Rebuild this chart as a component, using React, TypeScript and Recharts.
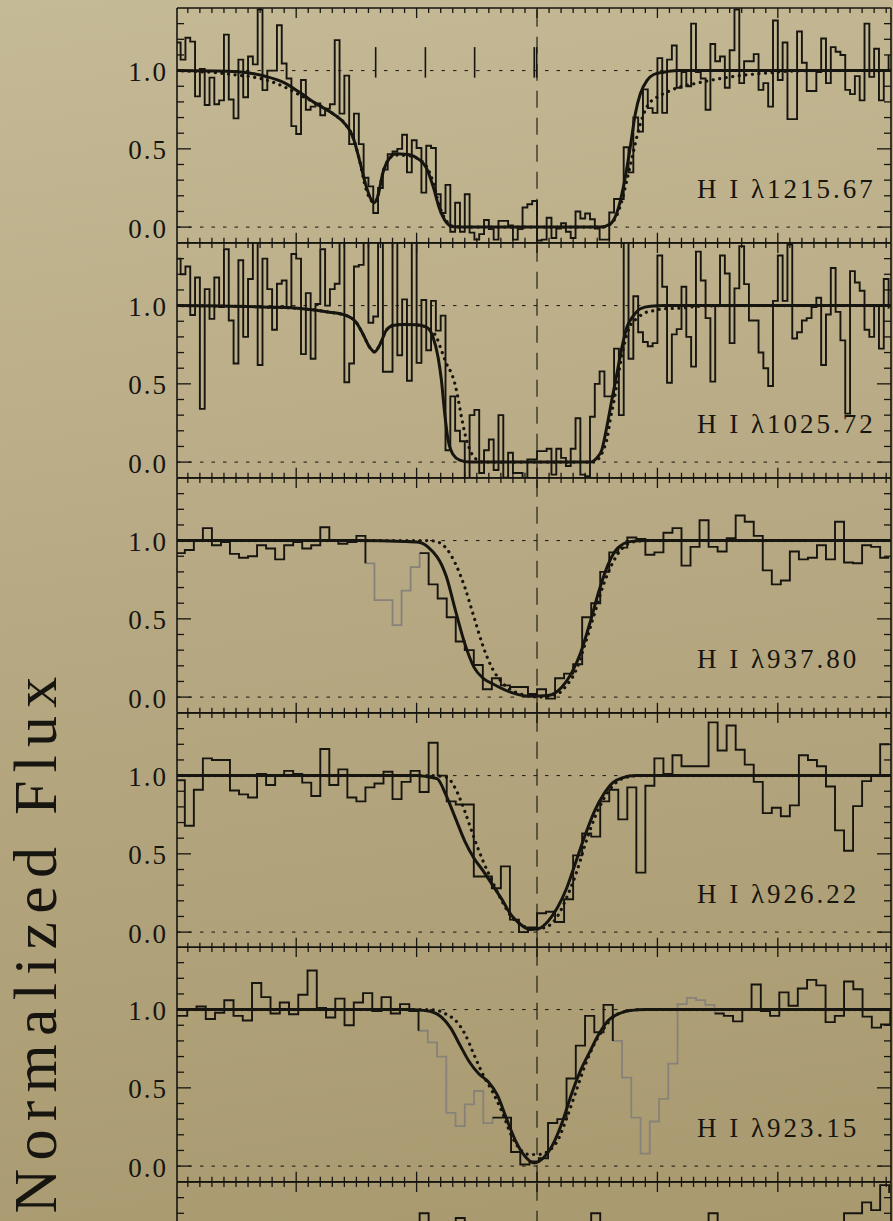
import React from "react";
import { LineChart, Line, XAxis, YAxis, ReferenceLine } from "recharts";

// page and frame geometry (px)
const PAGE_W = 893;
const PAGE_H = 1221;
const PLOT_LEFT = 177;
const PLOT_RIGHT = 891;
const PANEL_TOP = 8.4;
const PANEL_H = 234.75;
const Y_AXIS_W = 60;

const V_DOMAIN: [number, number] = [-299, 294];
const F_DOMAIN: [number, number] = [-0.1, 1.4];

const INK = "#17150f";
const GREY = "#86827a";
const SERIF = '"Liberation Serif", "Times New Roman", serif';

// velocity ticks every 10 km/s, long ones every 100
const V_TICKS: number[] = [];
for (let v = -290; v <= 290; v += 10) V_TICKS.push(v);
const F_TICKS = [0, 0.1, 0.2, 0.3, 0.4, 0.5, 0.6, 0.7, 0.8, 0.9, 1.0, 1.1, 1.2, 1.3];

const LINE_LABELS = ["H I λ1215.67", "H I λ1025.72", "H I λ937.80", "H I λ926.22", "H I λ923.15"];

type Pair = [number, number];

// ---- H I 1215.67 (Ly a): 4 km/s bins, first centre at -298
const P1_FLUX = [
  1.18, 1.07, 1.21, 1.185, 0.835, 1.01, 0.78, 0.955, 0.785, 0.81,
  1.23, 0.815, 0.695, 1.07, 0.83, 1.09, 1.04, 1.39, 0.875, 1.0,
  1.0, 1.29, 1.045, 0.95, 0.645, 0.595, 0.94, 0.75, 0.77, 0.79,
  0.715, 0.757, 0.785, 1.195, 0.725, 0.968, 0.53, 0.725, 0.53, 0.315,
  0.26, 0.09, 0.25, 0.367, 0.466, 0.483, 0.5, 0.59, 0.35, 0.555,
  0.505, 0.22, 0.52, 0.505, 0.21, 0.09, 0.27, -0.03, 0.156, -0.03,
  0.21, -0.035, -0.08, -0.045, 0.045, -0.013, -0.08, 0.04, 0.04, 0.01,
  -0.08, -0.013, 0.125, 0.146, 0.167, -0.086, -0.08, 0.06, -0.07, -0.01,
  0.025, -0.03, -0.07, 0.1, 0.055, 0.087, 0.05, -0.01, -0.08, -0.08,
  0.093, 0.18, 0.18, 0.51, 0.35, 0.7, 0.61, 0.88, 0.76, 0.73,
  1.08, 0.73, 1.07, 1.16, 0.89, 0.99, 0.9, 1.3, 0.99, 0.95,
  0.75, 1.17, 1.06, 1.09, 0.89, 1.13, 1.39, 0.92, 1.06, 1.06,
  1.105, 0.877, 0.92, 0.77, 1.32, 0.94, 1.18, 0.69, 0.69, 1.25,
  1.05, 0.87, 0.87, 0.99, 1.205, 0.92, 1.15, 1.12, 1.1, 0.877,
  0.85, 0.965, 0.81, 1.3, 0.96, 1.14, 0.81, 1.0, 1.1,
];
const P1_SOLID: Pair[] = [
  [-300, 1.0], [-253, 0.995], [-225, 0.962], [-211, 0.926], [-197.5, 0.863], [-183.6, 0.789],
  [-169.7, 0.726], [-158.6, 0.652], [-153, 0.578], [-147.5, 0.43], [-141.9, 0.262], [-137.8, 0.177],
  [-135, 0.156], [-132.2, 0.198], [-128, 0.346], [-122.5, 0.44], [-116.9, 0.468], [-110, 0.466],
  [-105.8, 0.462], [-97.5, 0.43], [-91.9, 0.378], [-86.4, 0.262], [-80.8, 0.114], [-75.3, 0.03],
  [-69.7, 0.002], [-58.6, 0.0], [52.5, 0.0], [60.8, 0.02], [66.4, 0.093], [71.9, 0.262],
  [77.5, 0.515], [81.7, 0.726], [85.8, 0.852], [91.4, 0.937], [96.9, 0.975], [105.3, 0.99],
  [116.4, 1.0], [295, 1.0],
];
const P1_DOTTED: Pair[] = [
  [-300, 1.0], [-253, 0.975], [-225, 0.94], [-211, 0.9], [-197.5, 0.846], [-183.6, 0.79],
  [-169.7, 0.726], [-158.6, 0.652], [-153, 0.578], [-147.5, 0.43], [-141.9, 0.24], [-137.8, 0.17],
  [-135, 0.156], [-132.2, 0.198], [-128, 0.346], [-122.5, 0.44], [-116.9, 0.46], [-105.8, 0.455],
  [-97.5, 0.43], [-91.9, 0.39], [-86.4, 0.29], [-80.8, 0.13], [-75.3, 0.04], [-69.7, 0.005],
  [-58.6, 0.0], [55, 0.0], [63.6, 0.04], [69.2, 0.135], [74.7, 0.3], [80.3, 0.49], [85.8, 0.66],
  [91.4, 0.77], [99.7, 0.83], [108, 0.863], [116.4, 0.89], [130.3, 0.916], [160.8, 0.96],
  [191.4, 0.985], [224.7, 1.0], [295, 1.0],
];
const P1_MARKS = [-134, -92.7, -51.8, -2.3, -0.3];
const MARK_SPAN: Pair = [0.955, 1.15];

// ---- H I 1025.72 (Ly b): 4 km/s bins, first centre at -298
const P2_FLUX = [
  1.3, 1.2, 1.25, 0.94, 1.18, 0.34, 1.105, 0.915, 1.18, 0.99,
  1.36, 0.905, 0.63, 1.29, 0.8, 1.17, 1.45, 0.62, 1.3, 1.105,
  0.846, 1.14, 1.16, 0.99, 1.33, 1.3, 0.69, 1.08, 0.66, 1.01,
  1.36, 1.0, 1.105, 1.14, 1.45, 0.51, 0.63, 1.25, 1.26, 1.45,
  0.89, 0.93, 1.45, 0.577, 0.577, 1.45, 0.683, 1.04, 0.52, 1.45,
  0.634, 1.036, 0.715, 1.03, 0.84, 0.936, 0.076, 0.42, 0.2, 0.133,
  -0.17, 0.3, 0.334, -0.07, 0.076, 0.144, -0.05, 0.3, -0.1, 0.06,
  -0.07, -0.07, -0.12, 0.017, 0.017, 0.07, 0.07, 0.085, -0.08, 0.085,
  0.027, -0.025, 0.085, 0.28, -0.08, -0.09, 0.29, 0.5, 0.58, 0.42,
  0.42, 0.725, 0.3, 1.45, 0.66, 1.06, 0.83, 0.767, 0.74, 0.76,
  1.32, 1.12, 0.507, 0.816, 0.85, 1.12, 0.8, 0.61, 1.345, 1.16,
  0.92, 0.514, 1.0, 1.32, 1.205, 0.76, 1.11, 1.38, 1.137, 0.905,
  0.905, 0.7, 0.6, 0.486, 1.03, 1.32, 1.03, 1.39, 0.79, 0.83,
  0.905, 0.92, 0.99, 1.05, 0.62, 0.943, 1.24, 0.96, 0.778, 0.31,
  1.22, 1.148, 1.095, 0.846, 0.8, 1.0, 0.725, 1.17, 0.98,
];
const P2_SOLID: Pair[] = [
  [-300, 1.0], [-222.5, 0.99], [-194.7, 0.98], [-172.5, 0.958], [-158.6, 0.937], [-150.3, 0.894],
  [-144.7, 0.82], [-139.2, 0.736], [-135, 0.704], [-130.8, 0.746], [-125.3, 0.841], [-119.7, 0.873],
  [-111.4, 0.88], [-100.3, 0.877], [-91.9, 0.863], [-86.4, 0.8], [-82.2, 0.672], [-79.4, 0.524],
  [-76.7, 0.313], [-73.9, 0.144], [-69.7, 0.049], [-64.2, 0.013], [-55.8, 0.0], [44.2, 0.0],
  [49.7, 0.027], [53.9, 0.08], [58.1, 0.23], [62.2, 0.4], [66.4, 0.567], [70.6, 0.736],
  [74.7, 0.863], [80.3, 0.937], [85.8, 0.98], [94.2, 0.996], [105.3, 1.0], [295, 1.0],
];
const P2_DOTTED: Pair[] = [
  [-300, 1.0], [-222.5, 0.99], [-194.7, 0.98], [-172.5, 0.958], [-158.6, 0.937], [-150.3, 0.894],
  [-144.7, 0.82], [-139.2, 0.736], [-135, 0.704], [-130.8, 0.746], [-125.3, 0.841], [-119.7, 0.873],
  [-111.4, 0.88], [-100.3, 0.877], [-91.9, 0.863], [-83.6, 0.8], [-79.4, 0.715], [-75.3, 0.63],
  [-71.1, 0.567], [-68.3, 0.503], [-65.6, 0.408], [-62.8, 0.29], [-60, 0.186], [-55.8, 0.08],
  [-51.7, 0.027], [-44.7, 0.0], [48, 0.0], [52, 0.03], [55.3, 0.08], [58.6, 0.165], [60.8, 0.27],
  [63.6, 0.376], [66.9, 0.524], [69.7, 0.65], [73.3, 0.778], [77.5, 0.873], [82.5, 0.915],
  [88.6, 0.95], [96.9, 0.968], [105.3, 0.98], [121.9, 0.985], [133, 0.995], [160, 1.0], [295, 1.0],
];

// ---- H I 937.80: 7.5 km/s bins, first centre at -296.25
const P3_FLUX = [
  0.92, 0.94, 1.0, 1.08, 0.97, 0.99, 0.915, 0.89, 0.9, 0.97,
  0.95, 0.88, 0.97, 0.99, 0.95, 0.97, 1.085, 1.0, 0.98, 0.99,
  1.03, 0.855, 0.62, 0.62, 0.46, 0.68, 0.83, 0.92, 0.72, 0.63,
  0.51, 0.355, 0.3, 0.205, 0.05, 0.12, 0.075, 0.065, 0.065, 0.02,
  0.05, -0.01, 0.12, 0.15, 0.21, 0.51, 0.6, 0.8, 0.925, 0.955,
  1.02, 1.01, 0.91, 0.925, 1.05, 1.08, 0.84, 0.96, 1.13, 0.96,
  0.93, 1.015, 1.16, 1.12, 1.03, 0.81, 0.72, 0.745, 0.93, 0.88,
  0.89, 0.97, 0.88, 1.12, 0.86, 0.855, 0.97, 0.96, 0.89, 0.89,
];
const P3_GREY: Pair[] = [[21, 27]];
const P3_SOLID: Pair[] = [
  [-300, 1.0], [-150, 1.0], [-110, 0.995], [-98.3, 0.99], [-90.7, 0.96], [-75.3, 0.77],
  [-67.6, 0.55], [-59.9, 0.34], [-52.3, 0.19], [-44.6, 0.12], [-36.9, 0.085], [-21.5, 0.03],
  [-6.1, 0.005], [9.2, 0.01], [20.7, 0.064], [28.4, 0.15], [36.1, 0.28], [43.8, 0.47],
  [51.5, 0.68], [59.2, 0.85], [66.8, 0.95], [78.4, 0.995], [89.9, 1.0], [295, 1.0],
];
const P3_DOTTED: Pair[] = [
  [-300, 1.0], [-90, 1.0], [-82, 0.99], [-75.3, 0.95], [-67.6, 0.85], [-59.9, 0.7], [-52.3, 0.51],
  [-44.6, 0.32], [-36.9, 0.18], [-29.2, 0.095], [-13.8, 0.02], [1.5, 0.0], [16.9, 0.02],
  [24.6, 0.075], [32.3, 0.17], [40, 0.34], [47.6, 0.53], [55.3, 0.72], [63, 0.86], [70.7, 0.95],
  [82.2, 0.995], [95, 1.0], [295, 1.0],
];

// ---- H I 926.22: 7.5 km/s bins, first centre at -296.25
const P4_FLUX = [
  0.97, 0.68, 0.91, 1.11, 1.1, 1.1, 0.905, 0.88, 0.86, 1.01,
  0.94, 1.0, 1.03, 1.01, 0.955, 0.87, 1.17, 0.94, 1.04, 0.86,
  0.835, 0.925, 0.95, 1.025, 0.85, 0.96, 1.03, 0.895, 1.21, 1.0,
  0.835, 0.815, 0.815, 0.355, 0.355, 0.28, 0.42, 0.08, 0.0, 0.03,
  0.12, 0.13, 0.065, 0.21, 0.49, 0.63, 0.61, 0.835, 0.91, 0.72,
  0.925, 0.38, 0.935, 1.11, 1.01, 1.13, 1.06, 1.06, 1.06, 1.34,
  1.16, 1.32, 1.165, 1.07, 0.96, 0.76, 0.795, 0.74, 0.81, 1.13,
  1.1, 1.06, 0.93, 0.65, 0.52, 0.805, 0.965, 1.0, 1.2, 1.2,
];
const P4_SOLID: Pair[] = [
  [-300, 1.0], [-100, 1.0], [-92.6, 0.995], [-83, 0.98], [-75.3, 0.87], [-67.6, 0.725],
  [-59.9, 0.58], [-52.2, 0.47], [-44.6, 0.39], [-36.9, 0.3], [-29.2, 0.21], [-21.5, 0.11],
  [-13.8, 0.05], [-6.1, 0.017], [1.5, 0.023], [9.2, 0.07], [16.9, 0.155], [24.6, 0.28],
  [32.3, 0.45], [40, 0.62], [47.6, 0.77], [55.3, 0.88], [63, 0.955], [70.7, 0.985], [82.2, 1.0],
  [295, 1.0],
];
const P4_DOTTED: Pair[] = [
  [-300, 1.0], [-90, 1.0], [-75.3, 0.99], [-67.6, 0.915], [-59.9, 0.77], [-52.2, 0.6],
  [-44.6, 0.45], [-36.9, 0.32], [-29.2, 0.2], [-21.5, 0.1], [-13.8, 0.05], [-2.3, 0.017],
  [9.2, 0.038], [16.9, 0.1], [24.6, 0.22], [32.3, 0.37], [40, 0.56], [47.6, 0.725], [55.3, 0.85],
  [63, 0.935], [70.7, 0.98], [82.2, 0.998], [95, 1.0], [295, 1.0],
];

// ---- H I 923.15: 7.68 km/s bins, first centre at -302
const P5_FLUX = [
  0.96, 0.96, 1.0, 1.02, 0.94, 0.98, 1.06, 0.96, 0.93, 1.17,
  1.08, 0.975, 1.045, 0.97, 1.095, 1.25, 1.01, 0.95, 1.07, 0.9,
  1.045, 1.105, 0.99, 1.08, 0.975, 1.035, 0.99, 0.865, 0.79, 0.7,
  0.34, 0.255, 0.395, 0.48, 0.275, 0.31, 0.31, 0.09, 0.01, 0.03,
  0.05, 0.275, 0.3, 0.56, 0.77, 0.96, 0.855, 1.03, 0.8, 0.565,
  0.31, 0.08, 0.285, 0.43, 0.655, 1.035, 1.075, 1.06, 1.03, 0.975,
  0.96, 0.925, 1.0, 1.16, 0.99, 0.96, 1.11, 1.025, 1.135, 1.19,
  1.155, 0.92, 0.96, 1.18, 1.13, 0.955, 0.885, 0.905, 0.99,
];
const P5_GREY: Pair[] = [[27, 35], [48, 59]];
const P5_SOLID: Pair[] = [
  [-300, 1.0], [-105, 1.0], [-98.3, 0.998], [-86.8, 0.985], [-79.1, 0.95], [-71.5, 0.88],
  [-63.8, 0.77], [-56.1, 0.665], [-48.4, 0.59], [-40.7, 0.54], [-33, 0.455], [-25.4, 0.305],
  [-17.7, 0.16], [-10, 0.063], [-2.3, 0.02], [5.4, 0.053], [13.1, 0.137], [20.7, 0.275],
  [28.4, 0.455], [36.1, 0.61], [43.8, 0.73], [51.5, 0.845], [59.2, 0.93], [66.8, 0.97],
  [78.4, 0.995], [89.9, 1.0], [295, 1.0],
];
const P5_DOTTED: Pair[] = [
  [-300, 1.0], [-90, 1.0], [-83, 0.995], [-75.3, 0.97], [-67.6, 0.93], [-59.9, 0.845],
  [-52.2, 0.71], [-44.6, 0.58], [-36.9, 0.475], [-29.2, 0.35], [-21.5, 0.2], [-13.8, 0.105],
  [-6.1, 0.074], [1.5, 0.074], [9.2, 0.095], [16.9, 0.16], [24.6, 0.305], [32.3, 0.475],
  [40, 0.645], [47.6, 0.78], [55.3, 0.877], [63, 0.95], [74.5, 0.99], [86, 1.0], [295, 1.0],
];

// ---- next transition, only its top edge shows: 7.5 km/s bins, first centre at -296.25
const P6_FLUX = [
  1.02, 0.97, 1.05, 0.99, 1.08, 0.95, 1.01, 1.04, 0.96, 1.1,
  0.98, 1.03, 0.94, 1.06, 1.0, 0.97, 1.07, 1.02, 0.93, 1.05,
  0.99, 1.08, 0.96, 1.03, 1.0, 0.95, 1.06, 1.2, 1.01, 0.97,
  1.04, 1.17, 1.02, 0.95, 1.0, 1.06, 0.98, 1.03, 0.96, 1.09,
  1.01, 0.97, 1.05, 0.99, 1.04, 1.08, 1.2, 1.03, 0.98, 1.06,
  1.0, 0.95, 1.04, 1.07, 0.99, 1.02, 0.96, 1.05, 1.1, 1.2,
  1.04, 0.98, 1.01, 1.07, 0.96, 1.03, 1.0, 1.08, 0.97, 1.05,
  1.02, 0.99, 1.06, 1.1, 1.2, 1.2, 1.27, 1.22, 1.38, 1.33,
];

interface PanelSpec {
  label?: string;
  v0: number; // centre of first bin
  dv: number; // bin width
  flux: number[];
  grey: Pair[]; // index ranges drawn in grey (blends)
  solid: Pair[];
  dotted: Pair[];
  marks: number[];
}

const PANELS: PanelSpec[] = [
  { label: LINE_LABELS[0], v0: -298, dv: 4, flux: P1_FLUX, grey: [], solid: P1_SOLID, dotted: P1_DOTTED, marks: P1_MARKS },
  { label: LINE_LABELS[1], v0: -298, dv: 4, flux: P2_FLUX, grey: [], solid: P2_SOLID, dotted: P2_DOTTED, marks: [] },
  { label: LINE_LABELS[2], v0: -296.25, dv: 7.5, flux: P3_FLUX, grey: P3_GREY, solid: P3_SOLID, dotted: P3_DOTTED, marks: [] },
  { label: LINE_LABELS[3], v0: -296.25, dv: 7.5, flux: P4_FLUX, grey: [], solid: P4_SOLID, dotted: P4_DOTTED, marks: [] },
  { label: LINE_LABELS[4], v0: -302, dv: 7.683, flux: P5_FLUX, grey: P5_GREY, solid: P5_SOLID, dotted: P5_DOTTED, marks: [] },
  { v0: -296.25, dv: 7.5, flux: P6_FLUX, grey: [], solid: [], dotted: [], marks: [] },
];

const isMajorV = (v: number) => v % 100 === 0;
const isMajorF = (f: number) => Math.abs(f * 2 - Math.round(f * 2)) < 1e-6;

type Side = "top" | "bottom" | "left" | "right";

// inward tick marks drawn by hand so major/minor lengths can differ
function tickMark(side: Side, withLabel = false) {
  return (props: any) => {
    const { x, y, payload } = props;
    const value = Number(payload.value);
    const vertical = side === "left" || side === "right";
    const major = vertical ? isMajorF(value) : isMajorV(value);
    const len = vertical ? (major ? 14 : 7) : major ? 10 : 5;
    const x2 = side === "left" ? x + len : side === "right" ? x - len : x;
    const y2 = side === "top" ? y + len : side === "bottom" ? y - len : y;
    return (
      <g>
        <line x1={x} y1={y} x2={x2} y2={y2} stroke={INK} strokeWidth={1.3} />
        {withLabel && major ? (
          <text
            x={x - 9}
            y={y + 10.5}
            textAnchor="end"
            fontFamily={SERIF}
            fontSize={27}
            letterSpacing={2}
            fill={INK}
          >
            {value.toFixed(1)}
          </text>
        ) : null}
      </g>
    );
  };
}

const toRows = (pairs: Pair[]) => pairs.map(([v, f]) => ({ v, f }));

function Panel({ p, index, labels }: { p: PanelSpec; index: number; labels: boolean }) {
  // rows sit on the left edge of each bin, drawn with stepAfter
  const edge = (i: number) => p.v0 - p.dv / 2 + i * p.dv;
  const inGrey = (i: number) => p.grey.some(([a, b]) => i >= a && i <= b);
  const strictlyGrey = (i: number) => p.grey.some(([a, b]) => i > a && i < b);
  const black = p.flux.map((f, i) => ({ v: edge(i), f: strictlyGrey(i) ? null : f }));
  const grey = p.flux.map((f, i) => ({ v: edge(i), f: inGrey(i) ? f : null }));

  const axisLine = { stroke: INK, strokeWidth: 1.6 };
  const common = { tickSize: 0, tickMargin: 0, tickLine: false, interval: 0 as const, allowDataOverflow: true };

  return (
    <div style={{ position: "absolute", left: 0, top: PANEL_TOP + index * PANEL_H - 1 }}>
      <LineChart
        width={PAGE_W}
        height={PANEL_H + 2}
        margin={{ top: 0, right: PAGE_W - PLOT_RIGHT - 1, bottom: 0, left: PLOT_LEFT - Y_AXIS_W }}
      >
        <XAxis
          xAxisId="b"
          orientation="bottom"
          type="number"
          dataKey="v"
          domain={V_DOMAIN}
          ticks={V_TICKS}
          height={1}
          axisLine={axisLine}
          tick={tickMark("bottom")}
          {...common}
        />
        <XAxis
          xAxisId="t"
          orientation="top"
          type="number"
          dataKey="v"
          domain={V_DOMAIN}
          ticks={V_TICKS}
          height={1}
          axisLine={axisLine}
          tick={tickMark("top")}
          {...common}
        />
        <YAxis
          yAxisId="l"
          orientation="left"
          type="number"
          domain={F_DOMAIN}
          ticks={F_TICKS}
          width={Y_AXIS_W}
          axisLine={axisLine}
          tick={tickMark("left", labels)}
          {...common}
        />
        <YAxis
          yAxisId="r"
          orientation="right"
          type="number"
          domain={F_DOMAIN}
          ticks={F_TICKS}
          width={1}
          axisLine={axisLine}
          tick={tickMark("right")}
          {...common}
        />

        <ReferenceLine xAxisId="b" yAxisId="l" y={1} stroke={INK} strokeWidth={1} strokeDasharray="3.5 8" />
        <ReferenceLine xAxisId="b" yAxisId="l" y={0} stroke={INK} strokeWidth={1} strokeDasharray="3.5 8" />
        <ReferenceLine xAxisId="b" yAxisId="l" x={0} stroke={INK} strokeWidth={1.1} strokeDasharray="17 10" />
        {p.marks.map((m) => (
          <ReferenceLine
            key={m}
            xAxisId="b"
            yAxisId="l"
            segment={[{ x: m, y: MARK_SPAN[0] }, { x: m, y: MARK_SPAN[1] }]}
            stroke={INK}
            strokeWidth={1.6}
          />
        ))}

        {p.dotted.length > 0 && (
          <Line
            xAxisId="b"
            yAxisId="l"
            data={toRows(p.dotted)}
            dataKey="f"
            type="monotone"
            stroke={INK}
            strokeWidth={3.2}
            strokeDasharray="0.1 6.5"
            strokeLinecap="round"
            dot={false}
            activeDot={false}
            isAnimationActive={false}
          />
        )}
        {p.grey.length > 0 && (
          <Line
            xAxisId="b"
            yAxisId="l"
            data={grey}
            dataKey="f"
            type="stepAfter"
            stroke={GREY}
            strokeWidth={1.8}
            dot={false}
            activeDot={false}
            isAnimationActive={false}
          />
        )}
        <Line
          xAxisId="b"
          yAxisId="l"
          data={black}
          dataKey="f"
          type="stepAfter"
          stroke={INK}
          strokeWidth={1.9}
          dot={false}
          activeDot={false}
          isAnimationActive={false}
        />
        {p.solid.length > 0 && (
          <Line
            xAxisId="b"
            yAxisId="l"
            data={toRows(p.solid)}
            dataKey="f"
            type="monotone"
            stroke={INK}
            strokeWidth={3}
            dot={false}
            activeDot={false}
            isAnimationActive={false}
          />
        )}
      </LineChart>
    </div>
  );
}

export default function App() {
  return (
    <div
      style={{
        position: "absolute",
        left: 0,
        top: 0,
        width: PAGE_W,
        height: PAGE_H,
        overflow: "hidden",
        background: "linear-gradient(172deg, #c5ba96 0%, #b7a983 45%, #a8996f 100%)",
      }}
    >
      {PANELS.map((p, i) => (
        <Panel key={i} p={p} index={i} labels={Boolean(p.label)} />
      ))}
      <svg
        width={PAGE_W}
        height={PAGE_H}
        style={{ position: "absolute", left: 0, top: 0, pointerEvents: "none" }}
      >
        <text
          transform="translate(56,941) rotate(-90)"
          textAnchor="middle"
          fontFamily={SERIF}
          fontSize={62}
          letterSpacing={8.2}
          fill={INK}
        >
          Normalized Flux
        </text>
        {PANELS.map((p, i) =>
          p.label ? (
            <text
              key={i}
              x={697}
              y={PANEL_TOP + i * PANEL_H + 190}
              fontFamily={SERIF}
              fontSize={27}
              letterSpacing={3}
              fill={INK}
            >
              {p.label}
            </text>
          ) : null
        )}
      </svg>
    </div>
  );
}
